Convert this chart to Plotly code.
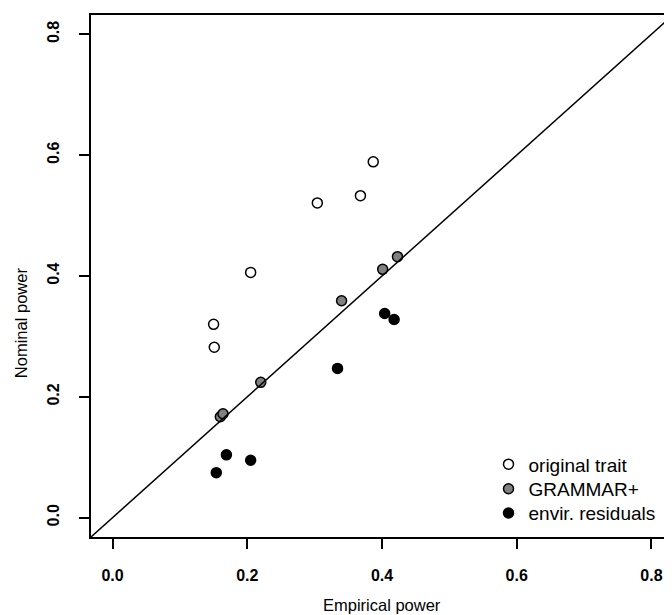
import plotly.graph_objects as go

# --- data ---
orig_x = [0.150, 0.151, 0.205, 0.304, 0.368, 0.387]
orig_y = [0.320, 0.282, 0.406, 0.521, 0.533, 0.589]

grammar_x = [0.160, 0.164, 0.220, 0.340, 0.401, 0.423]
grammar_y = [0.167, 0.172, 0.224, 0.359, 0.411, 0.432]

resid_x = [0.154, 0.169, 0.205, 0.334, 0.404, 0.418]
resid_y = [0.0745, 0.104, 0.095, 0.247, 0.338, 0.328]

tick_vals = [0.0, 0.2, 0.4, 0.6, 0.8]
tick_text = ['0.0', '0.2', '0.4', '0.6', '0.8']
axis_range = [-0.032, 0.832]

FONT = 'Liberation Sans, Arial, sans-serif'

fig = go.Figure()

# one legend per entry so the rows can sit as tight as in the R legend
series = [
    ('original trait', orig_x, orig_y, 'white', 'legend', 0.1393),
    ('GRAMMAR+', grammar_x, grammar_y, '#808080', 'legend2', 0.0922),
    ('envir. residuals', resid_x, resid_y, 'black', 'legend3', 0.0458),
]
legend_boxes = {}
for name, xs, ys, fill, leg, ypos in series:
    fig.add_trace(go.Scatter(
        x=xs, y=ys, mode='markers', name=name, legend=leg,
        marker=dict(size=10, color=fill, line=dict(color='black', width=1.5)),
    ))
    legend_boxes[leg] = dict(
        x=0.683, y=ypos, xanchor='left', yanchor='middle',
        bgcolor='rgba(0,0,0,0)', borderwidth=0,
        font=dict(family=FONT, size=19, color='black'),
        itemwidth=30,
    )

# y = x reference line
fig.add_shape(type='line', xref='x', yref='y',
              x0=axis_range[0], y0=axis_range[0], x1=axis_range[1], y1=axis_range[1],
              line=dict(color='black', width=1.5))

axis_common = dict(
    range=axis_range, tickvals=tick_vals, ticktext=tick_text,
    ticks='outside', ticklen=10, tickwidth=1.5, tickcolor='black',
    showline=True, linecolor='black', linewidth=2, mirror=True,
    showgrid=False, zeroline=False,
    tickfont=dict(family=FONT, size=16, color='black', weight='bold'),
)

fig.update_layout(
    width=672, height=615,
    margin=dict(l=83, r=7, t=5, b=86),
    plot_bgcolor='white', paper_bgcolor='white',
    showlegend=True,
    xaxis=dict(axis_common, ticklabelstandoff=13),
    yaxis=dict(axis_common, tickangle=-90, ticklabelstandoff=14),
    **legend_boxes,
)

# axis titles
fig.add_annotation(text='Empirical power', xref='paper', yref='paper',
                   x=0.5, y=-0.1298, xanchor='center', yanchor='middle',
                   showarrow=False, font=dict(family=FONT, size=16.5, color='black'))
fig.add_annotation(text='Nominal power', xref='paper', yref='paper',
                   x=-0.120, y=0.41, xanchor='center', yanchor='middle', textangle=-90,
                   showarrow=False, font=dict(family=FONT, size=16.5, color='black'))

fig.write_html("out.html")
